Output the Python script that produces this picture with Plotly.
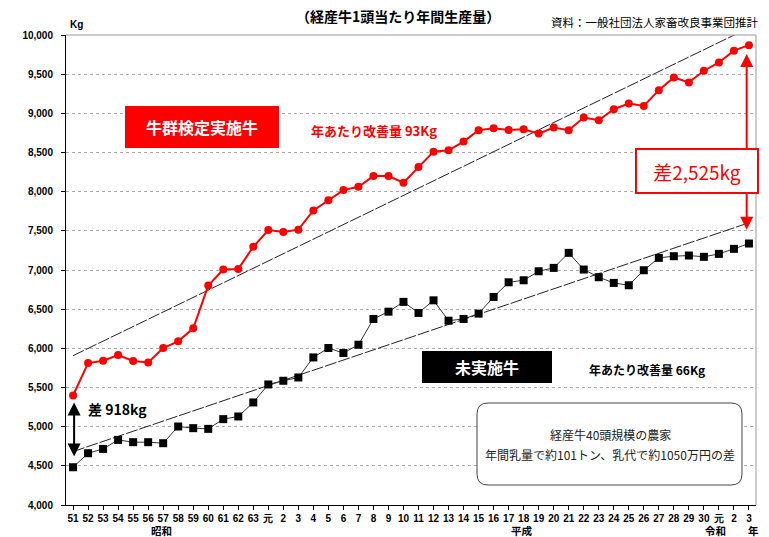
import plotly.graph_objects as go

# ---- data ----
years = ["51", "52", "53", "54", "55", "56", "57", "58", "59", "60", "61", "62", "63",
         "元", "2", "3", "4", "5", "6", "7", "8", "9", "10", "11", "12", "13", "14", "15",
         "16", "17", "18", "19", "20", "21", "22", "23", "24", "25", "26", "27", "28", "29", "30",
         "元", "2", "3"]

tested = [5398, 5812, 5842, 5914, 5838, 5820, 6004, 6089, 6255, 6801, 7006, 7014, 7296,
          7510, 7485, 7515, 7760, 7890, 8020, 8063, 8199, 8199, 8114, 8314, 8511, 8528, 8639,
          8784, 8809, 8788, 8797, 8741, 8818, 8784, 8946, 8912, 9052, 9125, 9095, 9296, 9458,
          9394, 9544, 9650, 9800, 9870]

untested = [4482, 4661, 4716, 4831, 4802, 4802, 4789, 5002, 4981, 4972, 5096, 5130, 5309,
            5539, 5586, 5628, 5884, 6004, 5940, 6046, 6375, 6468, 6593, 6452, 6613, 6353, 6375,
            6443, 6656, 6843, 6869, 6984, 7027, 7219, 7006, 6908, 6835, 6805, 6997, 7155, 7176,
            7185, 7168, 7206, 7270, 7338]

trend_tested = [5906, 10091]
trend_untested = [4682, 7603]

y_ticks = [4000, 4500, 5000, 5500, 6000, 6500, 7000, 7500, 8000, 8500, 9000, 9500, 10000]

idx = list(range(len(years)))
trend_x = [idx[0], idx[-1]]

# ---- layout helpers (pixel -> paper) ----
L, R, T, B = 66, 756, 35, 505
def px(x):
    return (x - L) / (R - L)
def py(y):
    return (B - y) / (B - T)

JP = "Noto Sans CJK JP"
NUM = "Liberation Sans Narrow, Arial Narrow, Liberation Sans, Arial"

fig = go.Figure()

fig.add_trace(go.Scatter(x=trend_x, y=trend_tested, mode="lines",
                         line=dict(color="#222", width=1, dash="12px,2px"),
                         hoverinfo="skip", showlegend=False))
fig.add_trace(go.Scatter(x=trend_x, y=trend_untested, mode="lines",
                         line=dict(color="#222", width=1, dash="12px,2px"),
                         hoverinfo="skip", showlegend=False))
fig.add_trace(go.Scatter(x=idx, y=untested, mode="lines+markers",
                         line=dict(color="#333", width=1),
                         marker=dict(symbol="square", size=8, color="black"),
                         name="未実施牛", showlegend=False))
fig.add_trace(go.Scatter(x=idx, y=tested, mode="lines+markers",
                         line=dict(color="#ff0000", width=2),
                         marker=dict(symbol="circle", size=8, color="#ff0000"),
                         name="牛群検定実施牛", showlegend=False))

shapes = []
# top & right gray frame
shapes.append(dict(type="line", xref="paper", yref="paper", x0=0, x1=1, y0=1, y1=1,
                   line=dict(color="#999", width=1)))
shapes.append(dict(type="line", xref="paper", yref="paper", x0=1, x1=1, y0=0, y1=1,
                   line=dict(color="#999", width=1)))
# red label box
shapes.append(dict(type="rect", xref="paper", yref="paper",
                   x0=px(125), x1=px(279), y0=py(148), y1=py(106),
                   fillcolor="#ff0000", line=dict(width=0), layer="above"))
# black label box
shapes.append(dict(type="rect", xref="paper", yref="paper",
                   x0=px(422), x1=px(552), y0=py(383), y1=py(351),
                   fillcolor="black", line=dict(width=0), layer="above"))
# rounded info box
x0, x1, y0, y1, r = 477, 742, 403, 485, 11
def P(x, y):
    return f"{px(x)},{py(y)}"
path = (f"M {P(x0 + r, y0)} L {P(x1 - r, y0)} Q {P(x1, y0)} {P(x1, y0 + r)} "
        f"L {P(x1, y1 - r)} Q {P(x1, y1)} {P(x1 - r, y1)} "
        f"L {P(x0 + r, y1)} Q {P(x0, y1)} {P(x0, y1 - r)} "
        f"L {P(x0, y0 + r)} Q {P(x0, y0)} {P(x0 + r, y0)} Z")
shapes.append(dict(type="path", xref="paper", yref="paper", path=path,
                   fillcolor="white", line=dict(color="#444", width=1), layer="above"))

ann = []
def text(x, y, s, size, color="black", bold=False, family=JP, xanchor="center"):
    ann.append(dict(x=px(x), y=py(y), xref="paper", yref="paper", text=s, showarrow=False,
                    xanchor=xanchor, yanchor="middle",
                    font=dict(family=family, size=size, color=color,
                              weight="bold" if bold else "normal")))

text(398, 16, "（経産牛1頭当たり年間生産量）", 14, bold=True)
text(760, 22, "資料：一般社団法人家畜改良事業団推計", 11.5, xanchor="right")
text(68, 24, "Kg", 10, bold=True, family=NUM, xanchor="left")
text(202, 127, "牛群検定実施牛", 16, color="white", bold=True)
text(374, 130, "年あたり改善量 93Kg", 13, color="#ff0000", bold=True)
text(487, 367, "未実施牛", 16, color="white", bold=True)
text(647, 369, "年あたり改善量 66Kg", 12, bold=True)
text(610, 434, "経産牛40頭規模の農家", 12, color="#222")
text(610, 454, "年間乳量で約101トン、乳代で約1050万円の差", 12, color="#222")
text(117, 409, "差 918kg", 14, bold=True)
text(161, 530, "昭和", 10.5, bold=True)
text(522, 530, "平成", 10.5, bold=True)
text(715, 530, "令和", 10.5, bold=True)
text(753, 530, "年", 10.5, bold=True)

# double arrows (data coordinates)
ann.append(dict(x=44.85, y=9756, ax=44.85, ay=7496, xref="x", yref="y", axref="x", ayref="y",
                text="", showarrow=True, arrowhead=2, arrowside="end+start",
                arrowsize=1.3, arrowwidth=2, arrowcolor="#ff0000"))
ann.append(dict(x=0.07, y=5309, ax=0.07, ay=4601, xref="x", yref="y", axref="x", ayref="y",
                text="", showarrow=True, arrowhead=2, arrowside="end+start",
                arrowsize=1.3, arrowwidth=2, arrowcolor="black"))
# 差2,525kg box (above the arrow)
ann.append(dict(x=px(697), y=py(171), xref="paper", yref="paper", text="差2,525kg",
                showarrow=False, xanchor="center", yanchor="middle",
                font=dict(family=JP, size=19, color="#ff0000"),
                bgcolor="white", bordercolor="#ff0000", borderwidth=2,
                width=118, height=40))

fig.update_layout(
    width=769, height=537,
    margin=dict(l=L, r=769 - R, t=T, b=537 - B),
    paper_bgcolor="white", plot_bgcolor="white",
    shapes=shapes, annotations=ann,
    xaxis=dict(range=[-0.47, 45.47], tickmode="array", tickvals=idx, ticktext=years,
               showgrid=False, zeroline=False, showline=True, linecolor="black", linewidth=1,
               ticks="outside", ticklen=4, tickcolor="black",
               ticklabelstandoff=0, automargin=False,
               tickfont=dict(family=NUM, size=10, color="black", weight="bold")),
    xaxis2=dict(range=[-0.47, 45.47], overlaying="x", anchor="y", side="bottom",
                tickmode="array", tickvals=idx, ticktext=[""] * len(idx),
                showgrid=False, zeroline=False, showline=False,
                ticks="inside", ticklen=4, tickcolor="black", showticklabels=False),
    yaxis=dict(range=[4000, 10000], tickmode="array", tickvals=y_ticks,
               tickformat=",", showgrid=True, gridcolor="#aaa", griddash="dot", gridwidth=1,
               zeroline=False, showline=True, linecolor="black", linewidth=1,
               ticks="outside", ticklen=4, tickcolor="black", ticklabelstandoff=6,
               automargin=False,
               tickfont=dict(family=NUM, size=10, color="black", weight="bold")),
)

fig.write_html("out.html", config={"displayModeBar": False},
               post_script="document.body.style.margin='0px';document.body.style.padding='0px';")
